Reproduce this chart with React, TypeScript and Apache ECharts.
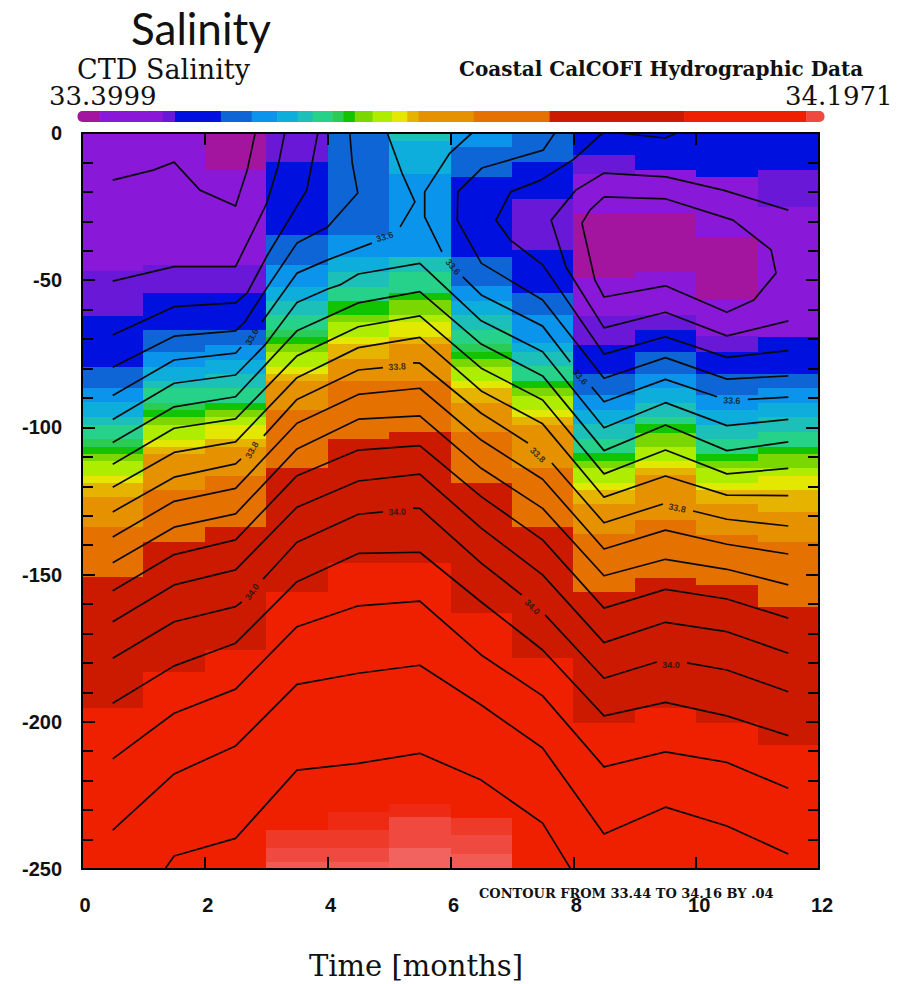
import React, { useEffect, useRef } from "react";
import * as echarts from "echarts";

// Colour classes of the plot, from low to high salinity
const levelColors = [
  "#A3159F", "#8A18D8", "#6A18D8", "#0010DE", "#0E66D6", "#0A94EC", "#0EAEDC", "#1CC0B8",
  "#26D28A", "#2ACC55", "#12C400", "#7AD800", "#AEEC00", "#E4E800", "#E6B400", "#E69200",
  "#E57200", "#CC1A00", "#EE2000", "#EF2A14", "#EE3A28", "#F04A40", "#F25A54", "#F2625E",
];
const [M, P, V, B, C, L, A, T, G, G2, N, Y1, Y2, Y3, O1, O2, O3, R1, R2, RA, R3, R4, R5, R6] =
  levelColors.map((_, i) => i);

// Each month column: [depth at the bottom of the band, colour class], top to bottom
const month0 = [[47, P], [62, V], [79.4, B], [86.7, C], [91.3, L], [96.4, A], [99.2, T], [104, G], [106.5, G2], [109, N], [111.3, Y1], [116.5, Y2], [118.8, Y3], [123.8, O1], [133.7, O2], [150.9, O3], [195.4, R1], [250, R2]];
const month1 = [[45, P], [54.4, V], [66.9, B], [74.3, C], [79.4, L], [84.1, A], [86.7, T], [91.6, G], [94.1, G2], [96.6, N], [99.2, Y1], [104.3, Y2], [106.5, Y3], [109, O1], [121.3, O2], [138.8, O3], [183, R1], [250, R2]];
const month2 = [[12.5, M], [45, P], [54.4, V], [66.9, B], [72, C], [77.1, L], [81.9, A], [86.7, T], [91.6, G], [94.1, N], [96.6, Y1], [99.2, Y2], [104, Y3], [106.5, O1], [116.5, O2], [133.7, O3], [175.6, R1], [250, R2]];
const month3 = [[9.9, V], [34.6, B], [44.8, C], [52.2, L], [57, A], [61.8, T], [66.9, G], [69.3, G2], [71.6, N], [74.3, Y1], [79.4, Y2], [81.7, Y3], [84.1, O1], [94.1, O2], [113.9, O3], [155.8, R1], [236.8, R2], [243, R3], [247.5, R4], [250, R5]];
const month4 = [[34.6, C], [42, L], [47.1, A], [52.2, T], [57, G], [61.8, N], [64.3, Y1], [69.2, Y2], [71.8, Y3], [76.8, O1], [84.1, O2], [104, O3], [146.2, R1], [230.5, R2], [236.8, RA], [243, R3], [247.5, R4], [250, R5]];
const month5 = [[2.6, T], [14, A], [42, L], [47.1, T], [54.4, G], [56.8, N], [61.8, Y1], [64.3, Y2], [69.2, Y3], [71.8, O1], [84.1, O2], [101.7, O3], [146.2, R1], [228, R2], [232.2, RA], [243, R4], [250, R6]];
const month6 = [[4.9, L], [14.8, C], [42, B], [52, C], [57, L], [61.8, A], [66.9, T], [71.7, G], [74.3, G2], [76.9, N], [79.4, Y1], [84.1, Y2], [86.7, Y3], [91.6, O1], [101.4, O2], [118.8, O3], [163, R1], [232.8, R2], [238.5, R3], [245, R4], [250, R5]];
const month7 = [[10, C], [22.4, B], [39.7, V], [54.5, B], [61.8, C], [71.4, L], [74.3, A], [79.1, T], [84.1, G], [86.7, N], [89.2, Y1], [94.1, Y2], [96.6, Y3], [99.2, O1], [113.9, O2], [133.7, O3], [178.4, R1], [250, R2]];
const month8 = [[7.5, B], [14, V], [27.2, P], [49.3, M], [62, P], [72, V], [81.7, B], [89, C], [94, L], [98.8, A], [104, T], [108.8, G], [111.4, N], [113.9, Y1], [118.8, Y2], [121.3, Y3], [126, O1], [136.2, O2], [156, O3], [200.5, R1], [250, R2]];
const month9 = [[12.6, B], [27.2, P], [47.1, M], [61.8, P], [66.9, V], [74.3, B], [81.7, C], [86.7, L], [91.6, A], [96.6, T], [98.9, G], [101.8, N], [106.5, Y1], [111.4, Y2], [113.9, Y3], [116.2, O1], [131.5, O2], [151.3, O3], [195.4, R1], [250, R2]];
const month10 = [[14.8, B], [35.2, P], [56.7, M], [69, P], [74.3, V], [81.7, B], [89, C], [94, L], [99.2, A], [104, T], [109, G], [111.4, N], [113.9, Y1], [118.8, Y2], [121.3, Y3], [126, O1], [136.5, O2], [153.5, O3], [200.5, R1], [250, R2]];
const month11 = [[12.6, B], [25, V], [69.2, P], [81.9, B], [86.7, C], [91.6, L], [96.6, A], [101.4, T], [106.5, G], [109, N], [113.9, Y1], [116.4, Y2], [121.3, Y3], [128.6, O1], [138.8, O2], [160.9, O3], [207.9, R1], [250, R2]];
const months = [month0, month1, month2, month3, month4, month5, month6, month7, month8, month9, month10, month11];

// Colour bar: [upper salinity of the segment, colour class]
const barMin = 33.3999;
const barMax = 34.1971;
const barStops = [[33.424, M], [33.491, P], [33.504, V], [33.553, B], [33.586, C], [33.613, L], [33.635, A], [33.651, T], [33.672, G], [33.684, G2], [33.696, N], [33.715, Y1], [33.736, Y2], [33.752, Y3], [33.764, O1], [33.823, O2], [33.904, O3], [34.048, R1], [34.178, R2], [34.1971, R4]];

// Contours given at every month centre, [depth...]
const nodes = [0.5, 1.5, 2.5, 3.5, 4.5, 5.5, 6.5, 7.5, 8.5, 9.5, 10.5, 11.5];
const at = (depths: number[], from = 0) => depths.map((d, i) => [nodes[from + i], d]);

const c7 = [105.1, 93.0, 89.6, 67.2, 57.7, 53.9, 71.7, 82.5, 107.9, 99.2, 107.9, 104.9];
const c8 = [112.5, 100.3, 97.1, 75.7, 65.8, 62.1, 79.9, 90.7, 115.8, 107.7, 115.8, 113.9];
const c9 = [120.3, 108.5, 104.9, 83.1, 72.9, 69.4, 87.6, 98.8, 123.7, 116.5, 123, 123.2];
const c11 = [137.2, 125.1, 120.7, 98.6, 88.8, 86.7, 104.3, 117.6, 141.3, 134.9, 139.7, 143];
const c12 = [146, 133.9, 129.4, 107.3, 97.2, 96.1, 113.9, 127.5, 150.4, 144.8, 148.2, 153.5];
const c13 = [155.5, 143.2, 138.2, 116.4, 107.7, 106.2, 123.5, 138.2, 161.4, 155, 158.3, 164.8];
const c14 = [166, 153.5, 148.4, 127.1, 118.2, 115.9, 134.2, 150.1, 173.1, 166.2, 169.4, 176.7];
const c16 = [193.7, 181, 173.3, 152.4, 142.8, 142.4, 159.3, 175.6, 198, 193.4, 198, 204.7];
const c17 = [212.6, 197.1, 188.9, 167.7, 160.6, 159, 177.3, 191.2, 215.3, 210.2, 213.8, 222.6];
const c18 = [236.8, 217.7, 208.2, 187.3, 183.5, 180.8, 194.3, 208.9, 238.1, 229, 235.4, 244.9];

// Contours with freer shapes or breaks for a label: [month, depth]
const c1a = [[0.5, 16], [1.16, 12.6], [1.5, 9.9], [1.92, 19.4], [2.5, 24.8], [2.69, 12.6], [2.82, 0]];
const c1b = [[8.5, 21.7], [9.51, 22.4], [10.6, 29.6], [11.22, 39.7], [11.3, 47.6], [10.94, 56.7], [10.5, 60.9], [9.5, 51.9], [8.5, 55.7], [8.35, 49.9], [8.14, 30.6], [8.27, 26.2], [8.5, 21.7]];
const c1c = [[8.74, 0], [9.49, 1.7], [9.69, 0]];
const c2a = [[0.5, 50.3], [1.5, 45.4], [2.5, 45.4], [3.01, 23.8], [3.19, 11.5], [3.3, 0]];
const c2b = [[11.5, 26.2], [10.44, 19.4], [9.51, 14.9], [8.5, 13.6], [8.04, 19.4], [7.64, 29.6], [7.88, 45.5], [8.5, 66.2], [9.5, 60.9], [10.5, 68.9], [11.5, 63.8]];
const c3a = [[0.5, 68.6], [1.5, 59], [2.5, 57.7], [2.69, 54.3], [3.01, 41.8], [3.66, 19.4], [3.84, 0]];
const c3b = [[8.48, 0], [7.99, 9.2], [7.47, 16], [6.98, 20], [6.74, 29.6], [6.97, 36.3], [7.5, 44.8], [8.5, 75.1], [9.5, 69.2], [10.5, 76.2], [11.5, 73.9]];
const c4a = [[0.5, 79.6], [1.5, 69], [2.5, 67.2], [2.65, 64.2], [3.01, 52.6], [3.5, 37.4], [4.0, 31.9], [4.49, 20.4], [4.4, 10.2], [4.36, 0]];
const c4b = [[7.7, 0], [7.51, 5.8], [6.51, 11.9], [6.12, 20], [6.11, 29.6], [6.5, 44.2], [7.5, 56.7], [8.5, 83.3], [9.5, 76.3], [10.5, 83.6], [11.5, 82.5]];
const c5a = [[0.5, 89.2], [1.5, 77.1], [2.5, 74.8], [2.59, 72.7]];
const c5b = [[2.93, 64.2], [3.5, 47.6], [4.0, 43.1], [4.72, 37.4]];
const c5c = [[5.18, 31.9], [5.42, 23.4], [5.21, 13.6], [4.97, 0]];
const c5d = [[6.35, 0], [5.99, 6.8], [5.58, 20], [5.58, 28.5], [5.86, 40.4]];
const c5e = [[6.2, 48.9], [6.5, 55], [7.5, 65.6], [7.95, 77.8]];
const c5f = [[8.3, 86.3], [8.5, 91.3], [9.5, 83.7], [10.34, 89.6]];
const c5g = [[10.84, 90.5], [11.5, 89.7]];
const c6 = [[0.5, 97.3], [1.5, 85], [2.5, 82.2], [2.98, 72], [3.5, 57.6], [4.0, 53], [4.2, 51.6], [4.5, 47.9], [5.5, 44.3], [6.5, 63.8], [7.5, 74.3], [8.5, 100.1], [9.5, 91.6], [10.5, 99.4], [11.5, 97.3]];
const c10a = [[0.5, 128.7], [1.5, 116.9], [2.5, 112.4], [2.59, 110.7]];
const c10b = [[2.96, 102.9], [3.5, 90.5], [4.5, 80.5], [4.9, 79.7]];
const c10c = [[5.39, 78.1], [5.5, 78.2], [6.5, 95.2], [7.26, 105.3]];
const c10d = [[7.65, 112.1], [8.5, 132.4], [9.46, 126]];
const c10e = [[9.95, 128.4], [10.5, 131.2], [11.5, 133.5]];
const c15a = [[0.5, 178.4], [1.5, 166], [2.5, 160.9], [2.6, 159.3]];
const c15b = [[2.95, 151.5], [3.5, 139], [4.5, 129.5], [4.9, 128.7]];
const c15c = [[5.39, 127.4], [5.5, 127.5], [6.5, 146.1], [7.16, 156.9]];
const c15d = [[7.54, 163.7], [8.5, 185.2], [9.36, 179.7]];
const c15e = [[9.85, 180], [10.5, 182.4], [11.5, 189.8]];
const c19 = [[1.35, 250], [1.5, 245.6], [2.5, 239.6], [3.5, 216.4], [4.5, 214.1], [5.5, 210.7], [6.5, 219.8], [7.5, 234.4], [7.95, 249.7]];

const contours = [
  c1a, c1b, c1c, c2a, c2b, c3a, c3b, c4a, c4b, c5a, c5b, c5c, c5d, c5e, c5f, c5g, c6,
  at(c7), at(c8), at(c9), c10a, c10b, c10c, c10d, c10e, at(c11), at(c12), at(c13), at(c14),
  c15a, c15b, c15c, c15d, c15e, at(c16), at(c17), at(c18), c19,
];

// Contour labels: [month, depth, text, angle]
const contourLabels: [number, number, string, number][] = [
  [2.77, 69.3, "33.6", 60], [4.93, 35.3, "33.6", 17], [6.04, 45.5, "33.6", -50], [8.11, 82.9, "33.6", -50], [10.58, 90.9, "33.6", -3],
  [2.77, 107.7, "33.8", 60], [5.13, 79.4, "33.8", 3], [7.42, 109.4, "33.8", -45], [9.69, 127.4, "33.8", -12],
  [2.77, 155.9, "34.0", 55], [5.13, 128.7, "34.0", 2], [7.33, 161, "34.0", -45], [9.59, 180.7, "34.0", 0],
];

const titleText = "Salinity";
const leftHeading = "CTD Salinity";
const rightHeading = "Coastal CalCOFI Hydrographic Data";
const minLabel = "33.3999";
const maxLabel = "34.1971";
const xTitle = "Time [months]";
const contourNote = "CONTOUR FROM 33.44 TO 34.16 BY .04";

const cells: number[][] = [];
months.forEach((bands, m) => {
  let top = 0;
  bands.forEach(([bottom, level]) => {
    cells.push([m, -top, -bottom, level]);
    top = bottom;
  });
});

const barCells: number[][] = [];
{
  let from = barMin;
  barStops.forEach(([to, level]) => {
    barCells.push([from, to, level]);
    from = to;
  });
}

const serif = "'DejaVu Serif', serif";
const sans = "'Liberation Sans', Arial, sans-serif";
const ink = "#000";
const axisStyle = { lineStyle: { color: ink, width: 2 } };
const tickLabelStyle = { color: "#111", fontFamily: sans, fontSize: 20, fontWeight: "bold" };

export default function App() {
  const ref = useRef<HTMLDivElement>(null);
  useEffect(() => {
    document.body.style.margin = "0";
    const chart = echarts.init(ref.current!, undefined, { renderer: "svg" });
    const hGrid = (extra: any) => ({
      type: "value", gridIndex: 0, min: 0, max: 12, interval: 2, splitLine: { show: false }, z: 10,
      axisLine: { show: true, onZero: false, ...axisStyle },
      axisTick: { show: true, inside: true, length: 12, ...axisStyle },
      ...extra,
    });
    const vGrid = (extra: any) => ({
      type: "value", gridIndex: 0, min: -250, max: 0, interval: 50, splitLine: { show: false }, z: 10,
      axisLine: { show: true, onZero: false, ...axisStyle },
      axisTick: { show: true, inside: true, length: 13, ...axisStyle },
      minorTick: { show: true, splitNumber: 5, length: 11, ...axisStyle },
      ...extra,
    });
    const text = (x: number, y: number, s: string, font: string) => ({
      type: "text", x, y, z: 20,
      style: { text: s, font, fill: "#111", verticalAlign: "middle" },
    });
    chart.setOption({
      animation: false,
      backgroundColor: "#fff",
      grid: [
        { left: 82, top: 133, width: 737, height: 736 },
        { left: 77.5, top: 111, width: 746.5, height: 11 },
      ],
      xAxis: [
        hGrid({ position: "bottom", axisLabel: { show: true, margin: 26, padding: [0, 0, 0, 6], ...tickLabelStyle } }),
        hGrid({ position: "top", axisLabel: { show: false } }),
        { type: "value", gridIndex: 1, min: barMin, max: barMax, show: false },
      ],
      yAxis: [
        vGrid({ position: "left", axisLabel: { show: true, margin: 20, ...tickLabelStyle } }),
        vGrid({ position: "right", axisLabel: { show: false } }),
        { type: "value", gridIndex: 1, min: 0, max: 1, show: false },
      ],
      graphic: [
        text(131, 28, titleText, `44px Lato, sans-serif`),
        text(77, 69, leftHeading, `27px ${serif}`),
        text(459, 69, rightHeading, `bold 20px ${serif}`),
        text(49, 96, minLabel, `26px ${serif}`),
        text(785, 96, maxLabel, `26px ${serif}`),
        text(309, 966, xTitle, `29px ${serif}`),
        text(479, 893, contourNote, `bold 13px ${serif}`),
      ],
      series: [
        {
          type: "custom",
          coordinateSystem: "cartesian2d",
          xAxisIndex: 0,
          yAxisIndex: 0,
          data: cells,
          encode: { x: 0, y: 1 },
          silent: true,
          renderItem: (_: any, api: any) => {
            const m = api.value(0);
            const a = api.coord([m, api.value(1)]);
            const b = api.coord([m + 1, api.value(2)]);
            const x0 = Math.round(a[0]);
            const x1 = Math.round(b[0]);
            const y0 = Math.round(a[1]);
            const y1 = Math.round(b[1]);
            return {
              type: "rect",
              shape: { x: x0, y: y0, width: x1 - x0, height: y1 - y0 },
              style: { fill: levelColors[api.value(3)] },
            };
          },
        },
        ...contours.map((points) => ({
          type: "line",
          xAxisIndex: 0,
          yAxisIndex: 0,
          z: 4,
          silent: true,
          showSymbol: false,
          symbol: "none",
          lineStyle: { color: "#0b0b0b", width: 1.7, join: "round" },
          data: points.map(([m, d]) => [m, -d]),
        })),
        {
          type: "scatter",
          xAxisIndex: 0,
          yAxisIndex: 0,
          z: 5,
          silent: true,
          symbolSize: 1,
          itemStyle: { color: "transparent" },
          data: contourLabels.map(([m, d, s, angle]) => ({
            value: [m, -d],
            label: {
              show: true,
              position: "inside",
              formatter: s,
              rotate: angle,
              color: "#111",
              fontFamily: sans,
              fontSize: 9,
              fontWeight: "bold",
            },
          })),
        },
        {
          type: "custom",
          coordinateSystem: "cartesian2d",
          xAxisIndex: 2,
          yAxisIndex: 2,
          data: barCells,
          encode: { x: [0, 1] },
          silent: true,
          renderItem: (p: any, api: any) => {
            const a = api.coord([api.value(0), 1]);
            const b = api.coord([api.value(1), 0]);
            const last = barCells.length - 1;
            const r = p.dataIndex === 0 ? [5, 0, 0, 5] : p.dataIndex === last ? [0, 5, 5, 0] : 0;
            return {
              type: "rect",
              shape: { x: a[0], y: a[1], width: b[0] - a[0] + 0.5, height: b[1] - a[1], r },
              style: { fill: levelColors[api.value(2)] },
            };
          },
        },
      ],
    });
    return () => chart.dispose();
  }, []);
  return <div ref={ref} style={{ position: "absolute", left: 0, top: 0, width: 912, height: 984, overflow: "hidden" }} />;
}
